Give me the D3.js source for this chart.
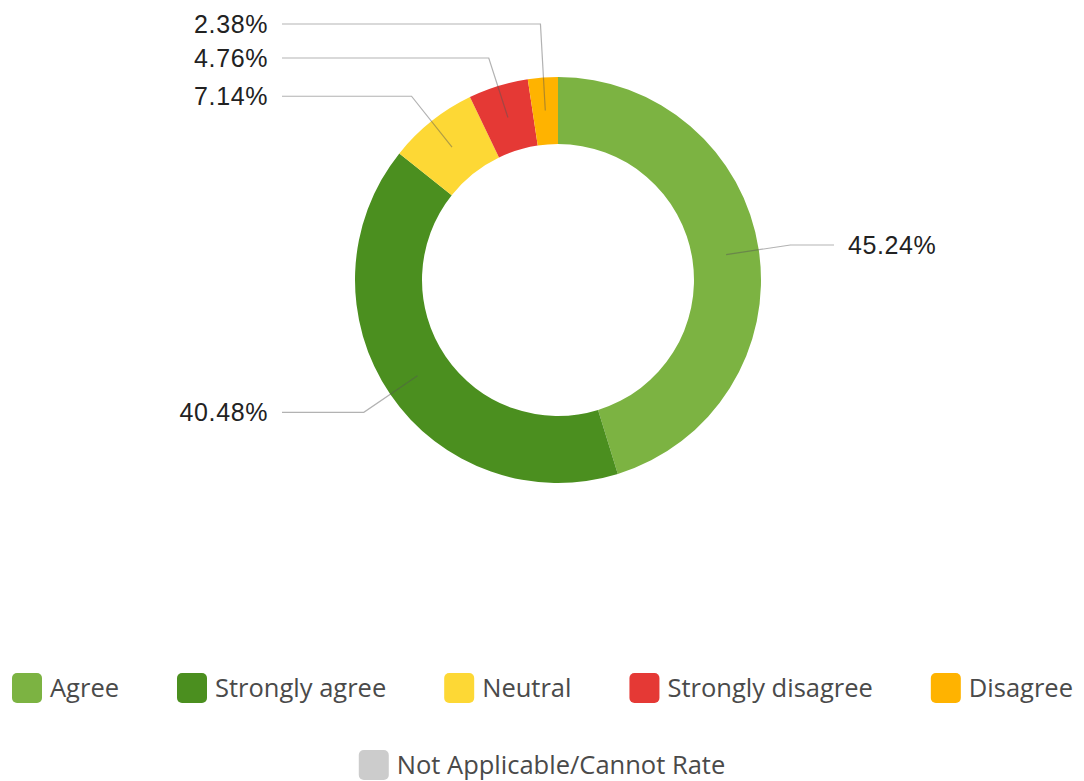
<!DOCTYPE html>
<html>
<head>
<meta charset="utf-8">
<script src="https://cdn.jsdelivr.net/npm/d3@7"></script>
<style>
  body { margin: 0; background: #fff; }
  svg { display: block; }
</style>
</head>
<body>
<svg id="chart" width="1084" height="781"></svg>
<script>
let categories = ['Agree', 'Strongly agree', 'Neutral', 'Strongly disagree', 'Disagree', 'Not Applicable/Cannot Rate'];
let values = [45.24, 40.48, 7.14, 4.76, 2.38, 0];
let colors = ['#7cb342', '#4b8f1f', '#fdd835', '#e53935', '#ffb300', '#cccccc'];

let width = 1084, height = 781;
let cx = 558, cy = 280;
let outer_r = 203, inner_r = 136;
let label_font = '"Liberation Sans", Arial, sans-serif';
let legend_font = '"Open Sans", sans-serif';

let svg = d3.select('#chart');

let data = categories.map((c, i) => ({name: c, value: values[i], color: colors[i]}));

let pie = d3.pie()
	.sort(null)
	.value(d => d.value);

let arcs = pie(data).filter(d => d.data.value > 0);

let arc = d3.arc()
	.innerRadius(inner_r)
	.outerRadius(outer_r);

let g = svg.append('g')
	.attr('transform', `translate(${cx}, ${cy})`);

g.selectAll('.slice')
	.data(arcs)
	.enter().append('path')
	.attr('class', 'slice')
	.attr('d', arc)
	.attr('fill', d => d.data.color);

// label anchors: centroid at r=170, elbow at r=235
let anchor_r = 170, elbow_r = 235;
let labels = arcs.map(d => {
	let a = (d.startAngle + d.endAngle) / 2;
	return {
		d: d,
		a: a,
		side: Math.sin(a) >= 0 ? 1 : -1,
		px: anchor_r * Math.sin(a),
		py: -anchor_r * Math.cos(a),
		ex: elbow_r * Math.sin(a),
		y: -elbow_r * Math.cos(a)
	};
});

// simple overlap resolution per side
let spacing = 34, top_y = 24 - cy;
[-1, 1].forEach(side => {
	let ls = labels.filter(l => l.side === side).sort((a, b) => a.y - b.y);
	for (let i = ls.length - 2; i >= 0; i--) {
		ls[i].y = Math.min(ls[i].y, ls[i + 1].y - spacing);
	}
	if (ls.length && ls[0].y < top_y) ls[0].y = top_y;
	for (let i = 1; i < ls.length; i++) {
		ls[i].y = Math.max(ls[i].y, ls[i - 1].y + spacing);
	}
});

g.selectAll('.leader')
	.data(labels)
	.enter().append('polyline')
	.attr('class', 'leader')
	.attr('points', l => [[l.px, l.py], [l.ex, l.y], [l.side * 276, l.y]].map(p => p.join(',')).join(' '))
	.attr('fill', 'none')
	.attr('stroke', '#555')
	.attr('stroke-opacity', 0.45)
	.attr('stroke-width', 1.2);

g.selectAll('.pct')
	.data(labels)
	.enter().append('text')
	.attr('class', 'pct')
	.attr('x', l => l.side * 290)
	.attr('y', l => l.y)
	.attr('dy', '0.35em')
	.attr('text-anchor', l => l.side > 0 ? 'start' : 'end')
	.style('font-family', label_font)
	.style('font-size', '25px')
	.style('letter-spacing', '0.6px')
	.style('fill', '#222')
	.text(l => l.d.data.value.toFixed(2) + '%');

// legend
let sq = 30, txt_off = 38;
let legend_rows = [data.slice(0, 5), data.slice(5)];
let row_y = [688, 765];
let left_x = 12, right_x = 1073;

legend_rows.forEach((row, ri) => {
	let lg = svg.append('g').attr('class', 'legend-row');
	let items = lg.selectAll('.legend-item')
		.data(row)
		.enter().append('g')
		.attr('class', 'legend-item');

	items.append('rect')
		.attr('width', sq)
		.attr('height', sq)
		.attr('rx', 5)
		.attr('y', -sq / 2)
		.attr('fill', d => d.color);

	items.append('text')
		.attr('x', txt_off)
		.attr('dy', '0.35em')
		.style('font-family', legend_font)
		.style('font-size', '25.5px')
		.style('fill', '#4a4a4a')
		.text(d => d.name);

	let widths = [];
	items.each(function() {
		widths.push(txt_off + d3.select(this).select('text').node().getComputedTextLength());
	});
	let total = d3.sum(widths);
	let xs = [];
	if (row.length > 1) {
		let gap = (right_x - left_x - total) / (row.length - 1);
		let x = left_x;
		widths.forEach(w => { xs.push(x); x += w + gap; });
	} else {
		xs.push((width - total) / 2);
	}
	items.attr('transform', (d, i) => `translate(${xs[i]}, ${row_y[ri]})`);
});
</script>
</body>
</html>
